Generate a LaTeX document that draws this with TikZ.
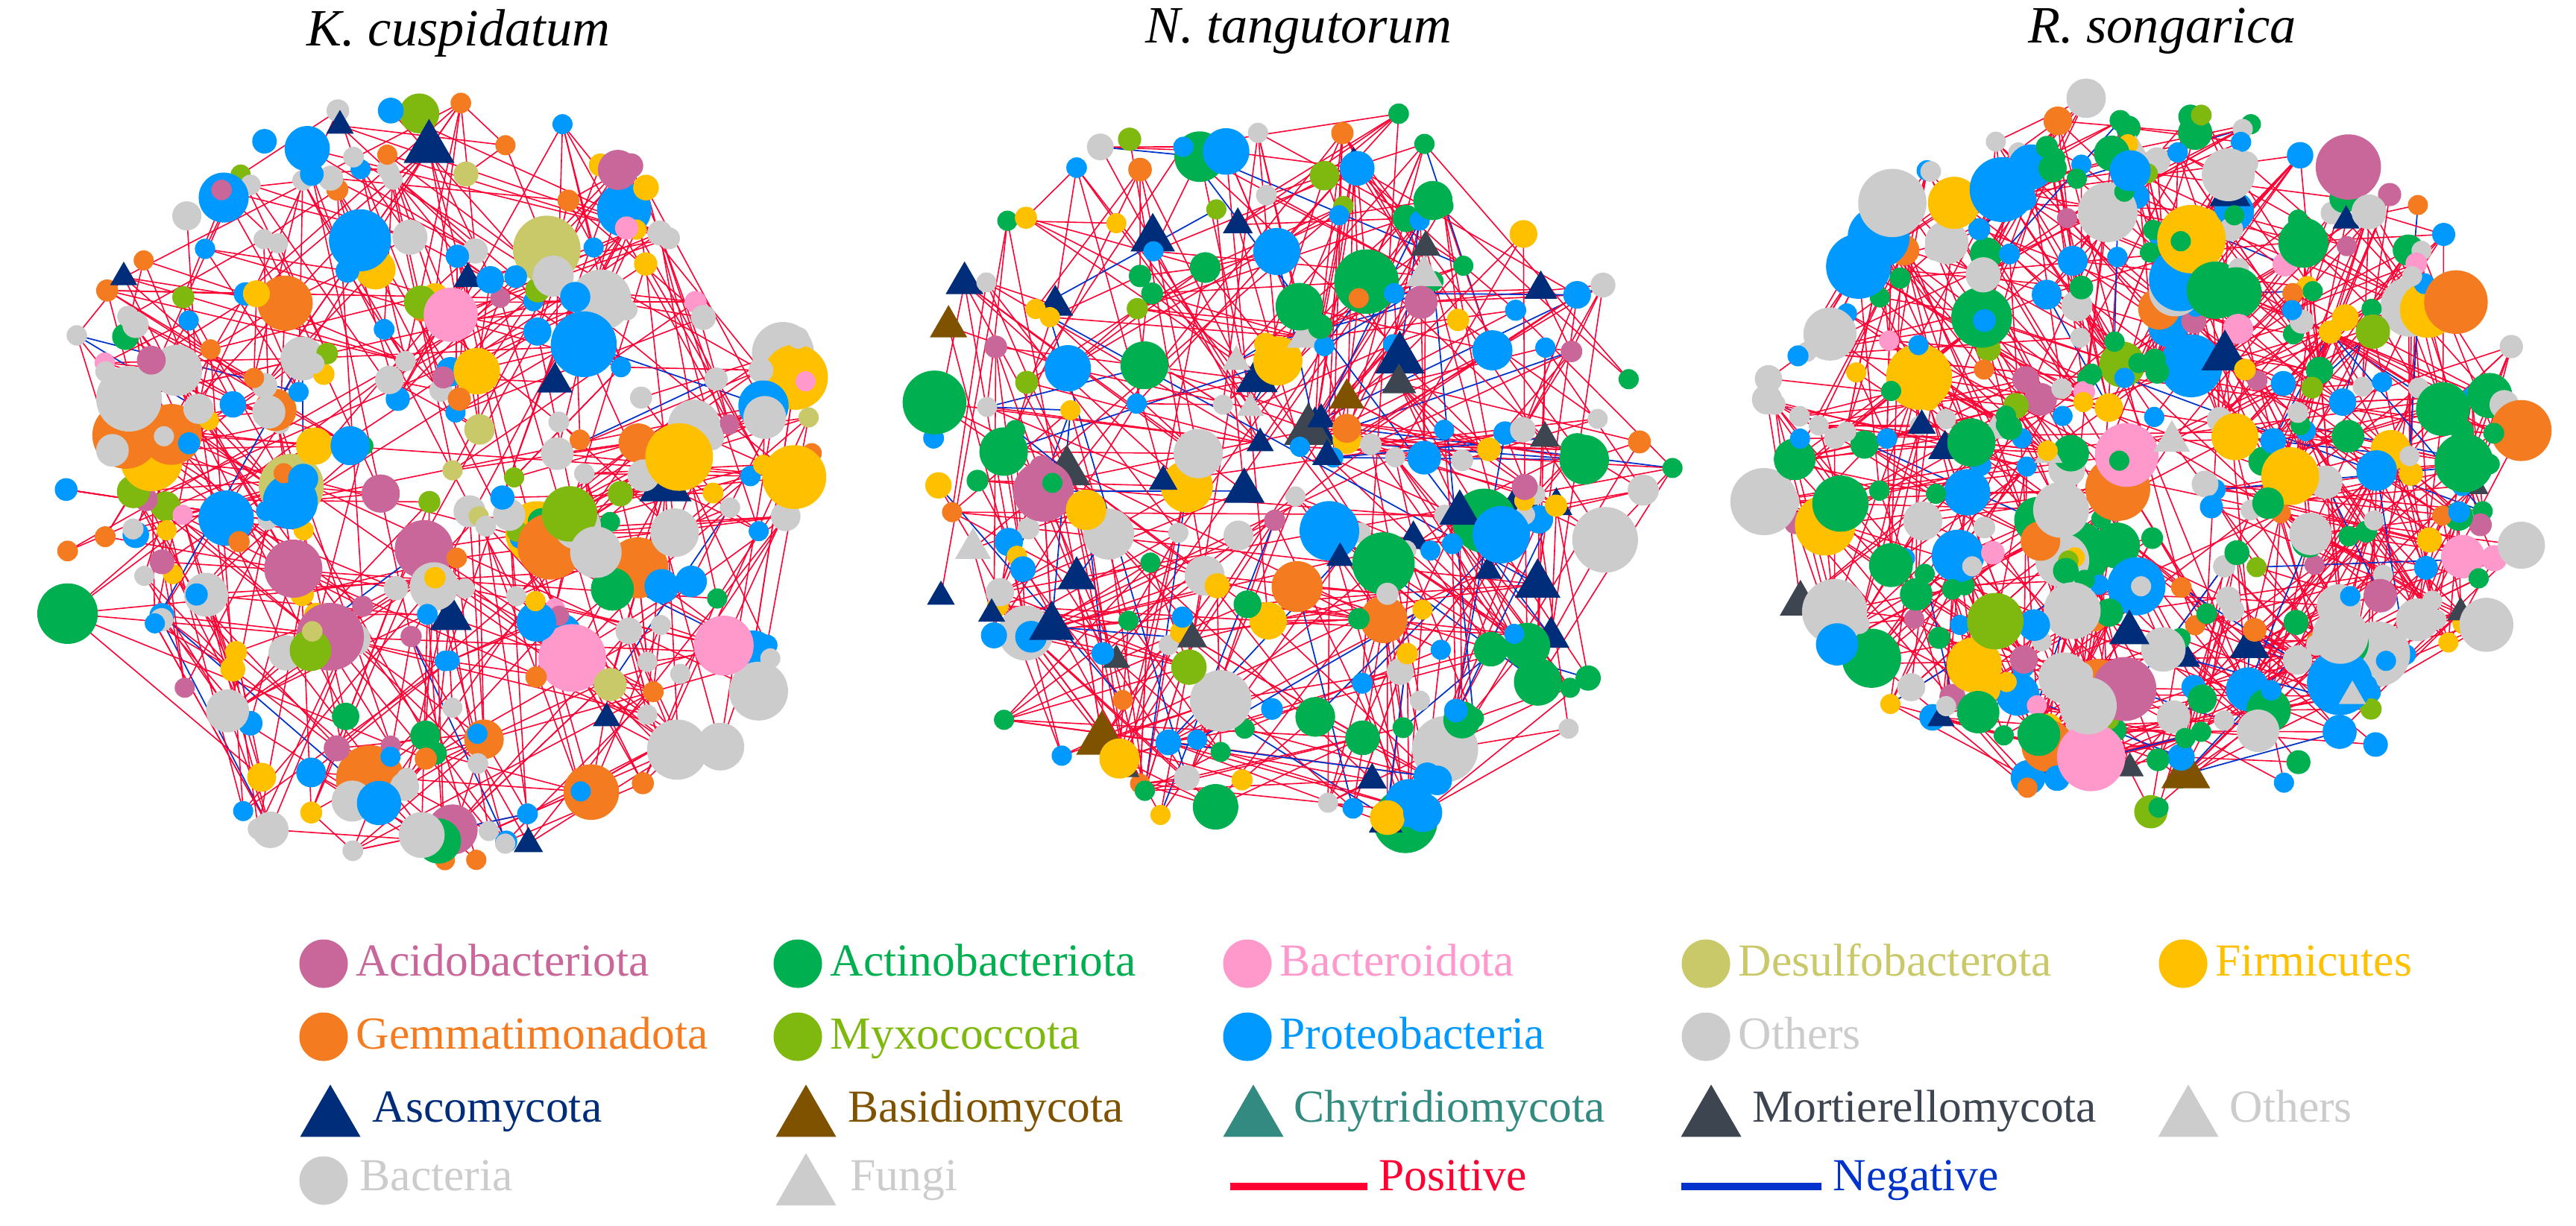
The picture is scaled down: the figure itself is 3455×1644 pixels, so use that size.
\documentclass[tikz,border=0pt]{standalone}
\usepackage{fontspec}
\setmainfont{Liberation Serif}
\usetikzlibrary{shapes.geometric}
\definecolor{col0}{HTML}{C9679A}
\definecolor{col1}{HTML}{00B050}
\definecolor{col2}{HTML}{FF99CC}
\definecolor{col3}{HTML}{C9C96A}
\definecolor{col4}{HTML}{FFC000}
\definecolor{col5}{HTML}{F47B20}
\definecolor{col6}{HTML}{7FB80E}
\definecolor{col7}{HTML}{0099FF}
\definecolor{col8}{HTML}{CCCCCC}
\definecolor{fcol0}{HTML}{002D7A}
\definecolor{fcol1}{HTML}{7F5200}
\definecolor{fcol2}{HTML}{338A80}
\definecolor{fcol3}{HTML}{3D4550}
\definecolor{fcol4}{HTML}{CCCCCC}
\definecolor{posc}{HTML}{FF0033}
\definecolor{negc}{HTML}{0033CC}
\tikzset{
  posl/.style={draw=posc,line width=0.45pt},
  negl/.style={draw=negc,line width=0.5pt},
  bnode/.style={circle,inner sep=0pt,draw=none},
  fnode/.style={regular polygon,regular polygon sides=3,inner sep=0pt,draw=none},
  legtxt/.style={anchor=base west,font=\rmfamily\fontsize{17.5}{19}\selectfont,inner sep=0pt},
  ttl/.style={font=\rmfamily\fontsize{20}{22}\selectfont\itshape,inner sep=0pt}
}
% #1 name #2 cx #3 cy #4 rx #5 ry #6 N #7 E #8 neg% #9 fungi%
\newcommand\netpanel[9]{%
  \foreach \i in {1,...,#6}{%
    \pgfmathsetmacro\ang{360/#6*\i+30*rand}%
    \pgfmathsetmacro\rr{0.95*exp(0.55*ln(0.002+rnd))}%
    \pgfmathsetmacro\px{#2+#4*\rr*cos(\ang)}%
    \pgfmathsetmacro\py{#3+#5*\rr*sin(\ang)}%
    \coordinate (#1c\i) at (\px,\py);
  }%
  \foreach \k in {1,...,#7}{%
    \pgfmathtruncatemacro\a{random(1,#6)}%
    \pgfmathtruncatemacro\sel{random(1,100)}%
    \ifnum\sel<12\relax
      \pgfmathtruncatemacro\d{random(1,#6)}%
    \else
      \pgfmathtruncatemacro\d{random(0,50)-25}%
    \fi
    \pgfmathtruncatemacro\b{mod(\a+\d+2*#6-1,#6)+1}%
    \pgfmathtruncatemacro\ng{random(1,100)}%
    \ifnum\ng>#8\relax \draw[posl] (#1c\a) -- (#1c\b);\else \draw[negl] (#1c\a) -- (#1c\b);\fi
  }%
  \foreach \i in {1,...,#6}{%
    \pgfmathtruncatemacro\fr{random(1,100)}%
    \ifnum\fr>#9\relax
      \pgfmathtruncatemacro\ci{random(1,\Blen)-1}%
      \pgfmathtruncatemacro\cc{\Barr[\ci]}%
      \pgfmathsetmacro\u{rnd}%
      \pgfmathsetmacro\ds{(27+65*\u*\u*\u*\u)/100}%
      \node[bnode,fill=col\cc,minimum size=\ds cm] (#1n\i) at (#1c\i) {};
    \else
      \pgfmathtruncatemacro\ci{random(1,\Flen)-1}%
      \pgfmathtruncatemacro\cc{\Farr[\ci]}%
      \pgfmathsetmacro\u{rnd}%
      \pgfmathsetmacro\ds{(42+40*\u*\u*\u)/100}%
      \node[fnode,fill=fcol\cc,minimum size=\ds cm] (#1n\i) at (#1c\i) {};
    \fi
  }%
}
\begin{document}
\begin{tikzpicture}[x=0.01cm,y=-0.01cm]
\useasboundingbox (0,0) rectangle (3455,1644);
\pgfmathsetseed{4711}
% titles
\node[ttl] (t1) at (615,45) {K. cuspidatum};
\node[ttl] (t2) at (1742,42) {N. tangutorum};
\node[ttl] (t3) at (2900,42) {R. songarica};
% panel 1
\def\Barr{{8,8,8,8,8,8,8,8,7,7,7,7,7,7,7,5,5,5,0,0,2,4,4,3,1,6}}\def\Blen{26}
\def\Farr{{0}}\def\Flen{1}
\netpanel{A}{585}{650}{555}{545}{300}{600}{4}{2}
% panel 2
\def\Barr{{1,1,1,1,1,1,7,7,7,7,7,7,8,8,8,8,8,4,4,4,4,5,0,6}}\def\Blen{24}
\def\Farr{{0,0,0,0,0,0,0,0,4,4,3,3,1}}\def\Flen{13}
\netpanel{B}{1730}{634}{540}{530}{230}{550}{8}{22}
% panel 3
\def\Barr{{1,1,1,1,1,1,1,1,8,8,8,8,8,8,8,7,7,7,7,7,7,4,4,4,0,0,5,5,6,2}}\def\Blen{30}
\def\Farr{{0,0,0,0,0,0,1,3,4,4}}\def\Flen{10}
\netpanel{C}{2880}{608}{546}{515}{400}{950}{4}{6}
% legend row 1
\node[bnode,fill=col0,minimum size=0.65cm] (l1) at (434,1293) {};
\node[legtxt,text=col0] (l1t) at (477,1309) {Acidobacteriota};
\node[bnode,fill=col1,minimum size=0.65cm] (l2) at (1070,1293) {};
\node[legtxt,text=col1] (l2t) at (1113,1309) {Actinobacteriota};
\node[bnode,fill=col2,minimum size=0.65cm] (l3) at (1673,1293) {};
\node[legtxt,text=col2] (l3t) at (1716,1309) {Bacteroidota};
\node[bnode,fill=col3,minimum size=0.65cm] (l4) at (2288,1293) {};
\node[legtxt,text=col3] (l4t) at (2331,1309) {Desulfobacterota};
\node[bnode,fill=col4,minimum size=0.65cm] (l5) at (2928,1293) {};
\node[legtxt,text=col4] (l5t) at (2971,1309) {Firmicutes};
% row 2
\node[bnode,fill=col5,minimum size=0.65cm] (m1) at (434,1391) {};
\node[legtxt,text=col5] (m1t) at (477,1407) {Gemmatimonadota};
\node[bnode,fill=col6,minimum size=0.65cm] (m2) at (1070,1391) {};
\node[legtxt,text=col6] (m2t) at (1113,1407) {Myxococcota};
\node[bnode,fill=col7,minimum size=0.65cm] (m3) at (1673,1391) {};
\node[legtxt,text=col7] (m3t) at (1716,1407) {Proteobacteria};
\node[bnode,fill=col8,minimum size=0.65cm] (m4) at (2288,1391) {};
\node[legtxt,text=col8] (m4t) at (2331,1407) {Others};
% row 3
\node[fnode,fill=fcol0,minimum size=0.935cm] (f1) at (443,1502) {};
\node[legtxt,text=fcol0] (f1t) at (499,1505) {Ascomycota};
\node[fnode,fill=fcol1,minimum size=0.935cm] (f2) at (1081,1502) {};
\node[legtxt,text=fcol1] (f2t) at (1137,1505) {Basidiomycota};
\node[fnode,fill=fcol2,minimum size=0.935cm] (f3) at (1681,1502) {};
\node[legtxt,text=fcol2] (f3t) at (1735,1505) {Chytridiomycota};
\node[fnode,fill=fcol3,minimum size=0.935cm] (f4) at (2295,1502) {};
\node[legtxt,text=fcol3] (f4t) at (2350,1505) {Mortierellomycota};
\node[fnode,fill=fcol4,minimum size=0.935cm] (f5) at (2935,1502) {};
\node[legtxt,text=fcol4] (f5t) at (2990,1505) {Others};
% row 4
\node[bnode,fill=col8,minimum size=0.65cm] (g1) at (434,1584) {};
\node[legtxt,text=col8] (g1t) at (482,1597) {Bacteria};
\node[fnode,fill=fcol4,minimum size=0.935cm] (g2) at (1081,1594) {};
\node[legtxt,text=fcol4] (g2t) at (1140,1597) {Fungi};
\coordinate (p1) at (1650,1592); \coordinate (p2) at (1834,1592);
\draw[draw=posc,line width=0.1cm] (p1) -- (p2);
\node[legtxt,text=posc] (pt) at (1849,1597) {Positive};
\coordinate (n1) at (2255,1592); \coordinate (n2) at (2443,1592);
\draw[draw=negc,line width=0.1cm] (n1) -- (n2);
\node[legtxt,text=negc] (nt) at (2458,1597) {Negative};
\end{tikzpicture}
\end{document}
